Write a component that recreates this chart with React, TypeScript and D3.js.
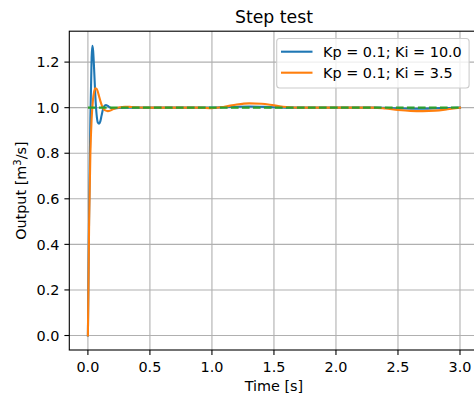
import React from "react";
import * as d3 from "d3";

const title = "Step test";
const xLabel = "Time [s]";
const seriesNames = ["Kp = 0.1; Ki = 10.0", "Kp = 0.1; Ki = 3.5"];
const xTicks = [0, 0.5, 1.0, 1.5, 2.0, 2.5, 3.0];
const yTicks = [0, 0.2, 0.4, 0.6, 0.8, 1.0, 1.2];

const blueT = [0, 0.01, 0.02, 0.03, 0.036, 0.042, 0.05, 0.06, 0.07, 0.08, 0.09, 0.1, 0.11, 0.12, 0.13, 0.145, 0.16, 0.18, 0.2, 0.25, 0.3, 1.0, 1.1, 1.3, 1.5, 1.7, 2.3, 2.5, 2.65, 2.85, 3.0];
const blueV = [0, 0.55, 0.95, 1.22, 1.272, 1.25, 1.17, 1.05, 0.97, 0.935, 0.93, 0.94, 0.965, 0.99, 1.005, 1.012, 1.008, 1.0, 0.997, 0.999, 1.0, 1.0, 1.002, 1.005, 1.002, 1.0, 1.0, 0.997, 0.995, 0.998, 1.0];

const orangeT = [0, 0.01, 0.02, 0.03, 0.04, 0.05, 0.06, 0.07, 0.08, 0.09, 0.1, 0.12, 0.14, 0.16, 0.18, 0.2, 0.25, 0.3, 0.35, 0.45, 0.9, 1.0, 1.1, 1.2, 1.3, 1.4, 1.5, 1.6, 1.7, 2.3, 2.4, 2.5, 2.6, 2.7, 2.8, 2.9, 3.0];
const orangeV = [0, 0.5, 0.8, 0.95, 1.03, 1.07, 1.085, 1.083, 1.07, 1.05, 1.03, 1.0, 0.988, 0.985, 0.987, 0.993, 1.001, 1.004, 1.003, 1.0, 1.0, 0.998, 1.004, 1.014, 1.019, 1.017, 1.01, 1.003, 1.0, 1.0, 0.996, 0.99, 0.986, 0.985, 0.987, 0.993, 1.0];

const setpointT = [0, 3.0];
const setpointV = [1.0, 1.0];

const W = 474;
const H = 396;
const left = 69.3;
const right = 478.6;
const top = 31.2;
const bottom = 350;

export default function App() {
  const x = d3.scaleLinear().domain([-0.15, 3.15]).range([left, right]);
  const y = d3.scaleLinear().domain([-0.0636, 1.3356]).range([bottom, top]);
  const line = d3
    .line<[number, number]>()
    .x((d) => x(d[0]))
    .y((d) => y(d[1]))
    .curve(d3.curveMonotoneX);
  const straight = d3
    .line<[number, number]>()
    .x((d) => x(d[0]))
    .y((d) => y(d[1]));

  const blue = blueT.map((t, i) => [t, blueV[i]] as [number, number]);
  const orange = orangeT.map((t, i) => [t, orangeV[i]] as [number, number]);
  const sp = setpointT.map((t, i) => [t, setpointV[i]] as [number, number]);

  const font = "DejaVu Sans";
  const colors = ["#1f77b4", "#ff7f0e", "#2ca02c"];
  const fs = 14.4;

  const legRight = right - 9.5;
  const legLeft = 276.7;
  const legTop = 38.5;
  const legBottom = 88;
  const rowY = [51.7, 72.7];

  return (
    <svg
      width={W}
      height={H}
      style={{ position: "absolute", left: 0, top: 0, background: "#fff" }}
      fontFamily={font}
    >
      <rect x={0} y={0} width={W} height={H} fill="#fff" />
      <defs>
        <clipPath id="plotclip">
          <rect x={left} y={top} width={right - left} height={bottom - top} />
        </clipPath>
      </defs>
      {xTicks.map((t) => (
        <line key={"gx" + t} x1={x(t)} x2={x(t)} y1={top} y2={bottom} stroke="#b0b0b0" strokeWidth={1.1} />
      ))}
      {yTicks.map((t) => (
        <line key={"gy" + t} x1={left} x2={right} y1={y(t)} y2={y(t)} stroke="#b0b0b0" strokeWidth={1.1} />
      ))}
      <g clipPath="url(#plotclip)">
        <path d={line(blue) || ""} fill="none" stroke={colors[0]} strokeWidth={2.1} strokeLinejoin="round" strokeLinecap="square" />
        <path d={line(orange) || ""} fill="none" stroke={colors[1]} strokeWidth={2.1} strokeLinejoin="round" strokeLinecap="square" />
        <path d={straight(sp) || ""} fill="none" stroke={colors[2]} strokeWidth={2.1} strokeDasharray="7.7 3.3" />
      </g>
      <rect x={left} y={top} width={right - left} height={bottom - top} fill="none" stroke="#000" strokeWidth={1.1} />
      {xTicks.map((t) => (
        <g key={"tx" + t}>
          <line x1={x(t)} x2={x(t)} y1={bottom} y2={bottom + 4.9} stroke="#000" strokeWidth={1.1} />
          <text x={x(t)} y={371.7} fontSize={fs} textAnchor="middle" fill="#000">
            {t.toFixed(1)}
          </text>
        </g>
      ))}
      {yTicks.map((t) => (
        <g key={"ty" + t}>
          <line x1={left - 4.9} x2={left} y1={y(t)} y2={y(t)} stroke="#000" strokeWidth={1.1} />
          <text x={left - 9.8} y={y(t) + 5.2} fontSize={fs} textAnchor="end" fill="#000">
            {t.toFixed(1)}
          </text>
        </g>
      ))}
      <text x={(left + right) / 2} y={391} fontSize={fs} textAnchor="middle" fill="#000">
        {xLabel}
      </text>
      <text
        transform={`translate(26, ${(top + bottom) / 2}) rotate(-90)`}
        fontSize={fs}
        textAnchor="middle"
        fill="#000"
      >
        Output [m<tspan dy={-5} fontSize={10}>3</tspan>
        <tspan dy={5}>/s]</tspan>
      </text>
      <text x={(left + right) / 2} y={23} fontSize={17.3} textAnchor="middle" fill="#000">
        {title}
      </text>
      <rect
        x={legLeft}
        y={legTop}
        width={legRight - legLeft}
        height={legBottom - legTop}
        rx={3}
        fill="#fff"
        fillOpacity={0.8}
        stroke="#cccccc"
        strokeWidth={1.1}
      />
      {seriesNames.map((n, i) => (
        <g key={n}>
          <line x1={281} x2={312.5} y1={rowY[i]} y2={rowY[i]} stroke={colors[i]} strokeWidth={2.1} />
          <text x={323} y={rowY[i] + 5.2} fontSize={fs} fill="#000">
            {n}
          </text>
        </g>
      ))}
    </svg>
  );
}
